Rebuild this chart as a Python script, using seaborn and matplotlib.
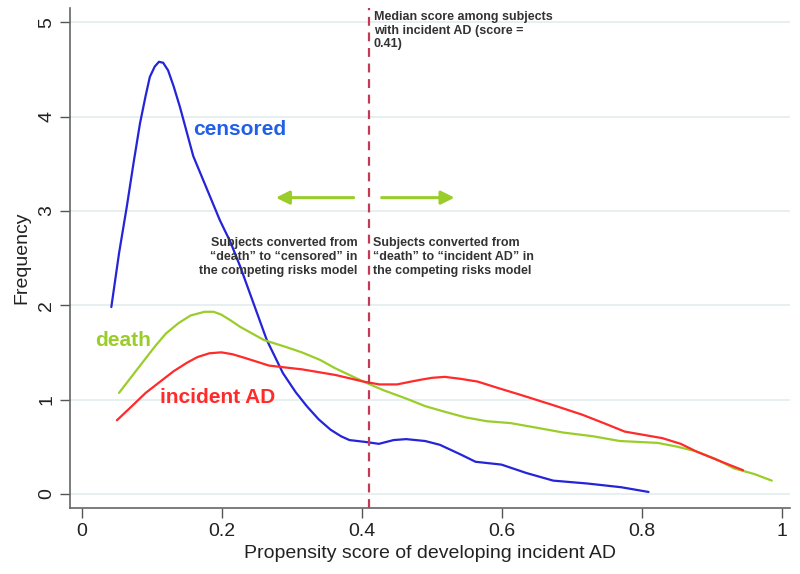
import pandas as pd
import matplotlib
matplotlib.use("Agg")
import matplotlib.pyplot as plt
import seaborn as sns

# Werte (Propensity score, Dichte)
censored_x = [0.042, 0.053, 0.064, 0.074, 0.083, 0.091, 0.097, 0.104, 0.110, 0.116,
              0.123, 0.131, 0.140, 0.159, 0.178, 0.197, 0.212, 0.226, 0.245, 0.264,
              0.287, 0.305, 0.321, 0.338, 0.355, 0.370, 0.382, 0.405, 0.424, 0.445,
              0.463, 0.490, 0.511, 0.540, 0.562, 0.599, 0.635, 0.673, 0.721, 0.770, 0.809]
censored_y = [1.98, 2.55, 3.04, 3.52, 3.93, 4.22, 4.42, 4.53, 4.58, 4.57,
              4.49, 4.32, 4.10, 3.58, 3.24, 2.90, 2.67, 2.41, 2.02, 1.63,
              1.28, 1.08, 0.93, 0.79, 0.68, 0.61, 0.57, 0.55, 0.53, 0.57,
              0.58, 0.56, 0.52, 0.42, 0.34, 0.31, 0.22, 0.14, 0.11, 0.07, 0.02]

death_x = [0.053, 0.080, 0.104, 0.120, 0.138, 0.155, 0.175, 0.188, 0.199, 0.212, 0.226,
           0.260, 0.290, 0.314, 0.340, 0.362, 0.402, 0.430, 0.463, 0.490, 0.518, 0.548,
           0.578, 0.612, 0.650, 0.687, 0.730, 0.768, 0.822, 0.850, 0.877, 0.905, 0.931,
           0.960, 0.985]
death_y = [1.07, 1.33, 1.56, 1.70, 1.81, 1.89, 1.93, 1.93, 1.90, 1.84, 1.77,
           1.63, 1.56, 1.50, 1.42, 1.33, 1.19, 1.10, 1.01, 0.93, 0.87, 0.81,
           0.77, 0.75, 0.70, 0.65, 0.61, 0.56, 0.54, 0.50, 0.45, 0.37, 0.27,
           0.21, 0.14]

incident_x = [0.050, 0.070, 0.091, 0.131, 0.150, 0.165, 0.182, 0.199, 0.215, 0.233,
              0.267, 0.290, 0.314, 0.362, 0.402, 0.425, 0.450, 0.470, 0.484, 0.500,
              0.518, 0.540, 0.565, 0.595, 0.626, 0.673, 0.714, 0.745, 0.775, 0.829,
              0.855, 0.877, 0.910, 0.944]
incident_y = [0.78, 0.92, 1.07, 1.30, 1.39, 1.45, 1.49, 1.50, 1.48, 1.44,
              1.36, 1.34, 1.32, 1.26, 1.19, 1.16, 1.16, 1.19, 1.21, 1.23,
              1.24, 1.22, 1.19, 1.12, 1.05, 0.94, 0.84, 0.75, 0.66, 0.59,
              0.53, 0.45, 0.35, 0.25]

median_score = 0.41
x_ticks = [0, 0.2, 0.4, 0.6, 0.8, 1]
x_ticklabels = ["0", "0.2", "0.4", "0.6", "0.8", "1"]
y_ticks = [0, 1, 2, 3, 4, 5]

blue = "#2424d8"
green = "#9acd2a"
red = "#ff2a2a"

df = pd.concat([
    pd.DataFrame({"x": censored_x, "y": censored_y, "group": "censored"}),
    pd.DataFrame({"x": death_x, "y": death_y, "group": "death"}),
    pd.DataFrame({"x": incident_x, "y": incident_y, "group": "incident AD"}),
])

sns.set_style("white")
plt.rcParams["font.family"] = ["Liberation Sans", "DejaVu Sans"]

fig = plt.figure(figsize=(8, 5.74), dpi=100)
ax = fig.add_axes([0.0875, 0.115, 0.9, 0.871])

sns.lineplot(data=df, x="x", y="y", hue="group",
             palette={"censored": blue, "death": green, "incident AD": red},
             linewidth=1.6, legend=False, ax=ax, sort=False)

ax.axvline(median_score, color="#c23a55", linestyle=(0, (4, 3)), linewidth=1.6)

ax.set_xlim(-0.017, 1.011)
ax.set_ylim(-0.15, 5.15)
ax.set_xticks(x_ticks)
ax.set_xticklabels(x_ticklabels)
ax.set_yticks(y_ticks)
ax.tick_params(axis="both", direction="out", length=7, width=1, color="#555555",
               labelsize=14, labelcolor="#222222", left=True, bottom=True)
for lab in ax.get_yticklabels():
    lab.set_rotation(90)
    lab.set_va("center")
ax.yaxis.grid(True, color="#e2eeee", linewidth=1.2)
ax.xaxis.grid(False)
sns.despine(ax=ax)
for s in ["left", "bottom"]:
    ax.spines[s].set_color("#666666")
    ax.spines[s].set_linewidth(1.2)

ax.set_xlabel("Propensity score of developing incident AD", fontsize=14, color="#222222")
ax.set_ylabel("Frequency", fontsize=14, color="#222222", labelpad=6)

# Beschriftungen der Kurven
ax.text(0.159, 3.86, "censored", color="#2060e8", fontsize=15, fontweight="bold", va="center")
ax.text(0.019, 1.63, "death", color=green, fontsize=15, fontweight="bold", va="center")
ax.text(0.111, 1.02, "incident AD", color=red, fontsize=15, fontweight="bold", va="center")

note = dict(fontsize=9, fontweight="bold", color="#333333", linespacing=1.2)
ax.text(0.417, 5.12, "Median score among subjects\nwith incident AD (score =\n0.41)",
        ha="left", va="top", **note)
ax.text(0.394, 2.72, "Subjects converted from\n\u201cdeath\u201d to \u201ccensored\u201d in\nthe competing risks model",
        ha="right", va="top", **note)
ax.text(0.416, 2.72, "Subjects converted from\n\u201cdeath\u201d to \u201cincident AD\u201d in\nthe competing risks model",
        ha="left", va="top", **note)

arrow = dict(arrowstyle="-|>,head_length=0.8,head_width=0.4", color=green, lw=2.2)
ax.annotate("", xy=(0.273, 3.14), xytext=(0.392, 3.14), arrowprops=arrow)
ax.annotate("", xy=(0.536, 3.14), xytext=(0.424, 3.14), arrowprops=arrow)

fig.savefig("out.png", dpi=100)
